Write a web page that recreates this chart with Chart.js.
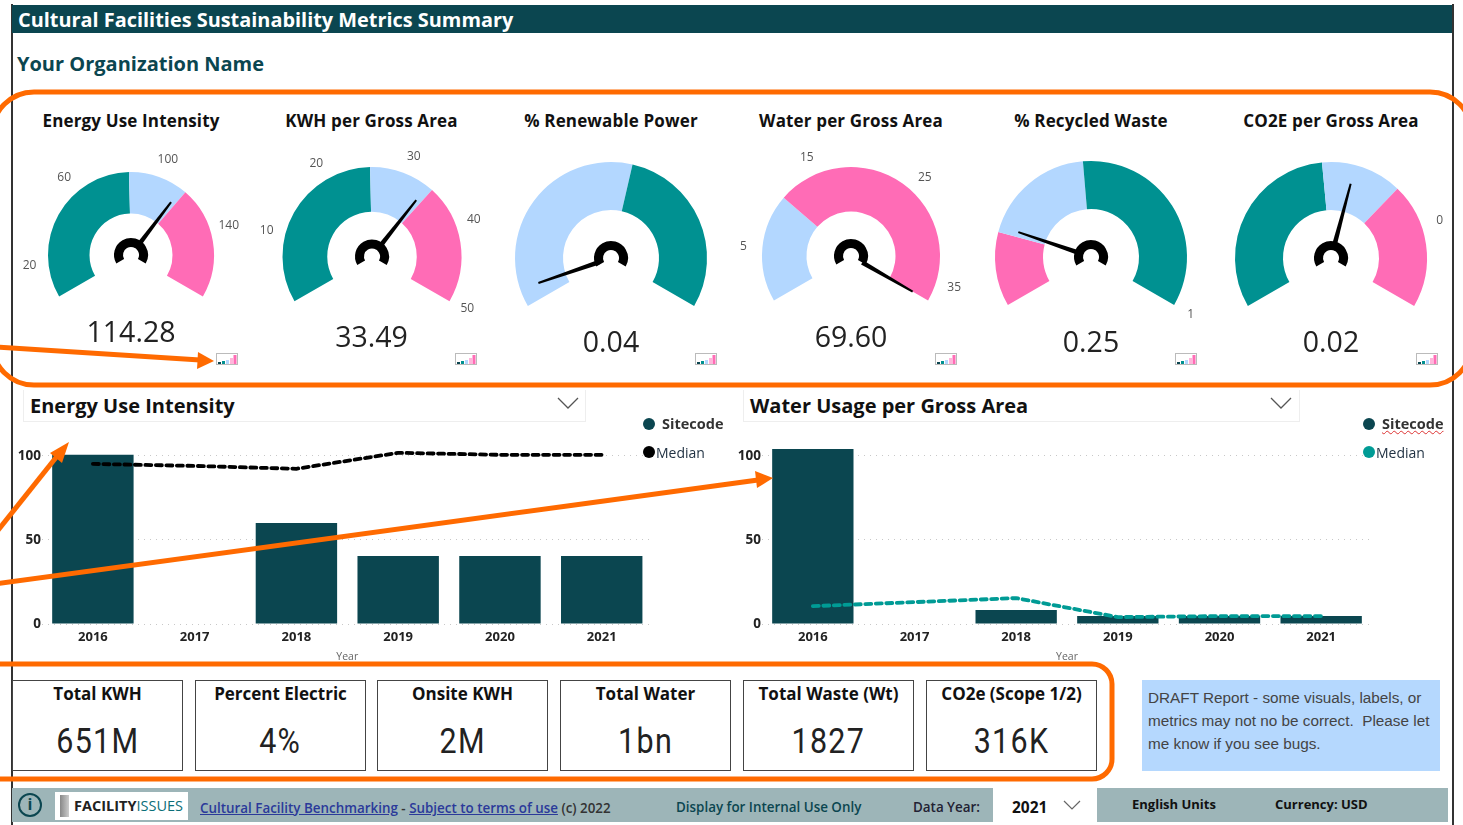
<!DOCTYPE html>
<html><head><meta charset="utf-8">
<script src="https://cdn.jsdelivr.net/npm/chart.js@4"></script>
<style>
html,body{margin:0;padding:0;background:#fff;width:1463px;height:825px;overflow:hidden;font-family:"Open Sans",sans-serif}
#page{position:relative;width:1463px;height:825px}
.abs{position:absolute;white-space:nowrap}
canvas{position:absolute}
.gt{font:700 17px "Open Sans";color:#111;transform:translateX(-50%);top:109px;letter-spacing:.15px}
.gv{font:400 28.5px "Open Sans";color:#222;transform:translateX(-50%)}
.dd{position:absolute;top:390px;height:31px;border:1px solid #eee;border-top:none;font:700 20px "Open Sans";color:#111;padding-left:6px;line-height:31px;box-sizing:content-box}
.card{position:absolute;top:680px;height:91px;width:171px;border:1px solid #444;box-sizing:border-box;background:#fff;text-align:center}
.card .l{font:700 17px "Open Sans";color:#111;margin-top:1px;line-height:24px}
.card .v{font:400 35px Roboto;color:#222;margin-top:14px;line-height:44px;letter-spacing:1.5px;display:inline-block;transform:scaleX(.87)}
</style></head><body><div id="page"></div>
<script>
// ---- data ----
const gaugeTitles = ["Energy Use Intensity","KWH per Gross Area","% Renewable Power","Water per Gross Area","% Recycled Waste","CO2E per Gross Area"];
const gaugeReadouts = ["114.28","33.49","0.04","69.60","0.25","0.02"];
const gaugeValues = [114.28,33.49,0.04,69.60,0.25,0.02];
const gaugeMins = [3,1,0,-0.47,0.058,0];
const gaugeMaxs = [173,50.3,0.87,37,1,0.0356];
const gaugeBandEnds = [[87,117,173],[25.4,34.3,50.3],[0.482,0.87],[10.6,37],[0.235,0.51,1],[0.017,0.0243,0.0356]];
const gaugeBandKinds = [["low","mid","high"],["low","mid","high"],["mid","low"],["mid","high"],["high","mid","low"],["low","mid","high"]];
const gaugeTickValues = [[20,59,103,140],[10,19.3,30.3,40,50],[],[5,14.5,25,35],[1],[0.0283]];
const gaugeTickLabels = [["20","60","100","140"],["10","20","30","40","50"],[],["5","15","25","35"],["1"],["0"]];

const years = ["2016","2017","2018","2019","2020","2021"];
const energySite = [100.6,null,60,40.5,40.5,40.5];
const energyMedian = [95.2,94,92.3,101.8,100.6,100.6];
const waterSite = [104,null,8.3,4.7,4.7,4.7];
const waterMedian = [10.6,13,15.4,4.1,4.7,4.7];
const axisTicks = [0,50,100];

const kpiLabels = ["Total KWH","Percent Electric","Onsite KWH","Total Water","Total Waste (Wt)","CO2e (Scope 1/2)"];
const kpiValues = ["651M","4%","2M","1bn","1827","316K"];

// ---- layout and style ----
const gaugeGeom = [{cx:131,cy:254.5,r:83},{cx:371.5,cy:256.5,r:89.5},{cx:611,cy:258,r:96},{cx:851,cy:256,r:89},{cx:1091,cy:257,r:96},{cx:1331,cy:258,r:96}];
const gaugeReadY = [312,317,322,317,322,322];
const iconX = [216,455,695,935,1175,1416];
const kindColor = {low:"#009191",mid:"#B3D7FF",high:"#FF6CB6"};
const DARK = "#0B4650";
const page = document.getElementById("page");
function div(css,html,cls){const d=document.createElement("div");d.className=cls||"abs";d.style.cssText=css;if(html!=null)d.innerHTML=html;page.appendChild(d);return d;}

// frame
div("left:11px;top:4px;width:2px;height:821px;background:#333");
div("left:1452px;top:4px;width:2px;height:821px;background:#333");
div("left:12px;top:5px;width:1440px;height:28px;background:"+DARK+";color:#fff;font:700 19.9px 'Open Sans';line-height:30px;padding-left:6px;box-sizing:border-box","Cultural Facilities Sustainability Metrics Summary");
div("left:17px;top:50px;font:700 20px 'Open Sans';color:"+DARK,"Your Organization Name");

// gauges
const gaugePlugin = {id:"gaugeMarks",afterDraw(chart,args,opts){
  const i=opts.index, ctx=chart.ctx, arc=chart.getDatasetMeta(0).data[0];
  const x=arc.x,y=arc.y,r=arc.outerRadius, lo=gaugeMins[i], hi=gaugeMaxs[i];
  const ang=v=>(-120+240*(Math.min(hi,Math.max(lo,v))-lo)/(hi-lo)-90)*Math.PI/180;
  ctx.save();
  ctx.font="12px 'Open Sans'";ctx.fillStyle="#555";ctx.textAlign="center";ctx.textBaseline="middle";
  gaugeTickValues[i].forEach((t,k)=>{const a=ang(t);ctx.fillText(gaugeTickLabels[i][k],x+(r+19)*Math.cos(a),y+(r+19)*Math.sin(a));});
  const a=ang(gaugeValues[i]),tip=r*0.8,base=13,ux=Math.cos(a),uy=Math.sin(a),nx=-uy,ny=ux;
  ctx.fillStyle="#000";ctx.beginPath();
  ctx.moveTo(x+ux*base+nx*2.4,y+uy*base+ny*2.4);ctx.lineTo(x+ux*tip+nx*1,y+uy*tip+ny*1);
  ctx.lineTo(x+ux*tip-nx*1,y+uy*tip-ny*1);ctx.lineTo(x+ux*base-nx*2.4,y+uy*base-ny*2.4);ctx.closePath();ctx.fill();
  ctx.strokeStyle="#000";ctx.lineWidth=9;ctx.beginPath();
  ctx.arc(x,y,12.5,150*Math.PI/180,30*Math.PI/180);ctx.stroke();
  ctx.restore();
}};
gaugeTitles.forEach((title,i)=>{
  const g=gaugeGeom[i];
  div("left:"+g.cx+"px",title,"abs gt");
  const W=260,padTop=28,H=padTop+Math.ceil(1.5*g.r)+50;
  const c=document.createElement("canvas");c.width=W;c.height=H;
  c.style.left=(g.cx-W/2)+"px";c.style.top=(g.cy-g.r-padTop)+"px";page.appendChild(c);
  const ends=gaugeBandEnds[i];
  const sizes=ends.map((e,k)=>e-(k?ends[k-1]:gaugeMins[i]));
  new Chart(c,{type:"doughnut",plugins:[gaugePlugin],data:{labels:gaugeBandKinds[i],datasets:[{data:sizes,backgroundColor:gaugeBandKinds[i].map(k=>kindColor[k]),borderWidth:0}]},
    options:{responsive:false,animation:false,rotation:-120,circumference:240,cutout:"50%",
      layout:{padding:{left:(W-2*g.r)/2,right:(W-2*g.r)/2,top:padTop,bottom:H-padTop-1.5*g.r}},
      plugins:{legend:{display:false},tooltip:{enabled:false},gaugeMarks:{index:i}}}});
  div("left:"+g.cx+"px;top:"+gaugeReadY[i]+"px",gaugeReadouts[i],"abs gv");
  div("left:"+iconX[i]+"px;top:353px;width:22px;height:12px;background:#fff;border:1px solid #bbb;box-sizing:border-box",
    '<svg width="20" height="10" style="display:block"><rect x="1" y="8" width="3" height="2" fill="#0B4650"/><rect x="5" y="7" width="3" height="3" fill="#009191"/><rect x="9" y="6" width="3" height="4" fill="#B3D7FF"/><rect x="13" y="4" width="3" height="6" fill="#FFB6DB"/><rect x="16.5" y="1" width="3" height="9" fill="#FF6CB6"/></svg>');
});

// selector boxes
const chev=(x,y)=>'<svg class="abs" style="left:'+x+'px;top:'+y+'px" width="24" height="14"><path d="M2 2 L12 12 L22 2" fill="none" stroke="#555" stroke-width="1.3"/></svg>';
div("left:23px;width:555px","Energy Use Intensity","dd");
div("left:743px;width:549px","Water Usage per Gross Area","dd");
page.insertAdjacentHTML("beforeend",chev(556,396)+chev(1269,396));

// combo charts
function combo(left,width,padTop,padRight,yMax,bars,line,lineColor){
  const c=document.createElement("canvas");c.width=width;c.height=226;c.style.left=left+"px";c.style.top="440px";page.appendChild(c);
  new Chart(c,{data:{labels:years,datasets:[
    {type:"line",label:"Median",data:line,borderColor:lineColor,borderWidth:3.8,borderDash:[6,4.5],borderCapStyle:"round",pointRadius:0,tension:0,order:0},
    {type:"bar",label:"Sitecode",data:bars,backgroundColor:DARK,barPercentage:0.8,categoryPercentage:1,order:1}]},
   options:{responsive:false,animation:false,layout:{padding:{top:padTop,right:padRight,left:0,bottom:0}},
    plugins:{legend:{display:false},tooltip:{enabled:false}},
    scales:{
      x:{grid:{display:false,drawTicks:false,tickLength:0},border:{display:false},ticks:{color:"#222",font:{family:"Open Sans",weight:"700",size:13},padding:5},
         title:{display:true,text:"Year",color:"#666",font:{family:"Open Sans",size:10.5},padding:{top:2,bottom:3}},afterFit(s){s.height=42;}},
      y:{min:0,max:yMax,afterBuildTicks(s){s.ticks=axisTicks.map(v=>({value:v}));},afterFit(s){s.width=42;},
         border:{display:false,dash:[1,5]},grid:{color:"#c8c8c8",lineWidth:1,tickLength:0,drawTicks:false},
         ticks:{color:"#222",font:{family:"Open Sans",weight:"700",size:13.5},padding:1}}}}});
  return c;
}
Chart.defaults.font.family="Open Sans";
combo(0,660,8,7.4,104,energySite,energyMedian,"#000");
combo(720,660,8,8,104,waterSite,waterMedian,"#009B95");

// legends
function legend(dotX,medColor,sq){
  div("left:"+(dotX-6)+"px;top:418px;width:12px;height:12px;border-radius:50%;background:"+DARK);
  div("left:"+(dotX+13)+"px;top:414px;font:700 14.5px 'Open Sans';color:#333;"+(sq?"text-decoration:underline wavy #d33 1px;":""),"Sitecode");
  div("left:"+(dotX-6)+"px;top:446px;width:12px;height:12px;border-radius:50%;background:"+medColor);
  div("left:"+(dotX+7)+"px;top:443px;font:400 14px 'Open Sans';color:#234;","Median");
}
legend(649,"#000",false);legend(1369,"#009B95",true);

// KPI cards
const cardX=[12,195,377,560,743,926];
kpiLabels.forEach((l,i)=>{
  div("left:"+cardX[i]+"px",'<div class="l">'+l+'</div><div class="v">'+kpiValues[i]+'</div>',"card");
});
div("left:1142px;top:680px;width:298px;height:91px;background:#B5D8FE;font:15.3px 'Liberation Sans';color:#444;padding:6px 0 0 6px;box-sizing:border-box;line-height:23px","DRAFT Report - some visuals, labels, or<br>metrics may not no be correct.&nbsp; Please let<br>me know if you see bugs.");

// footer
div("left:12px;top:788px;width:981px;height:34px;background:#9DB5B8");
div("left:1097px;top:788px;width:351px;height:34px;background:#9DB5B8");
div("left:18px;top:793px;width:24px;height:24px;border:2.4px solid "+DARK+";border-radius:50%;box-sizing:border-box;color:"+DARK+";font:700 16px 'Open Sans';text-align:center;line-height:19px","i");
div("left:55px;top:792px;width:133px;height:28px;background:#fff;font:700 14.5px 'Open Sans';line-height:28px;padding-left:19px;box-sizing:border-box;color:#222",'FACILITY<span style="font-weight:400;color:#0B6E78">ISSUES</span>');
div("left:60px;top:795px;width:9px;height:22px;background:linear-gradient(90deg,#888,#ccc)");
div("left:200px;top:799px;font:600 13.4px 'Open Sans';color:#333",'<span style="color:#2B3A9A;text-decoration:underline">Cultural Facility Benchmarking</span> - <span style="color:#2B3A9A;text-decoration:underline">Subject to terms of use</span> (c) 2022');
div("left:676px;top:798px;font:600 13.4px 'Open Sans';color:#0B4650","Display for Internal Use Only");
div("left:913px;top:798px;font:600 13.4px 'Open Sans';color:#223","Data Year:");
div("left:1012px;top:796px;font:700 15.5px 'Open Sans';color:#111","2021");
page.insertAdjacentHTML("beforeend",'<svg class="abs" style="left:1063px;top:800px" width="18" height="11"><path d="M1 1 L9 9 L17 1" fill="none" stroke="#666" stroke-width="1.2"/></svg>');
div("left:1132px;top:795px;font:700 13px 'Open Sans';color:#111","English Units");
div("left:1275px;top:795px;font:700 13px 'Open Sans';color:#111","Currency: USD");

// orange callouts
page.insertAdjacentHTML("beforeend",`<svg class="abs" style="left:0;top:0;pointer-events:none" width="1463" height="825">
<g fill="none" stroke="#FF6A00" stroke-width="5">
<rect x="-8" y="92" width="1480" height="293" rx="42"/>
<rect x="-40" y="664" width="1152" height="115" rx="20"/>
<line x1="-5" y1="347" x2="200" y2="360"/>
<line x1="-5" y1="534" x2="58" y2="455"/>
<line x1="-5" y1="584" x2="758" y2="480"/></g>
<g fill="#FF6A00">
<path d="M214 361 L198 352 L197 369 Z"/>
<path d="M69 442 L50 453 L62 463 Z"/>
<path d="M773 478 L755 471 L757 488 Z"/></g></svg>`);
</script></body></html>
